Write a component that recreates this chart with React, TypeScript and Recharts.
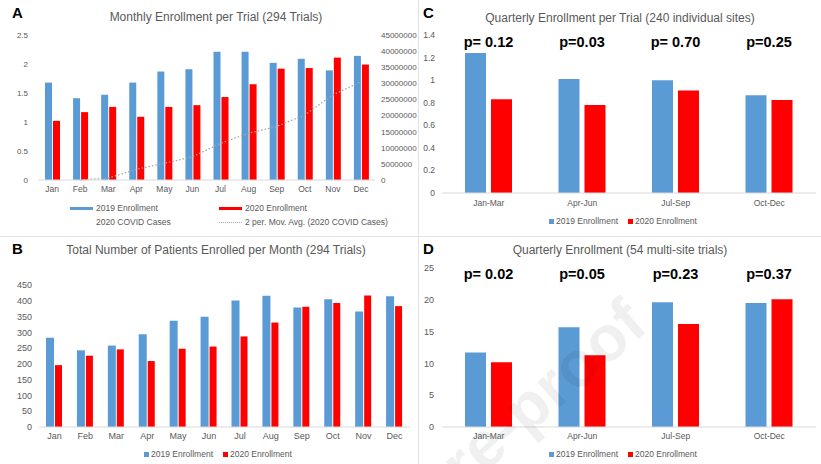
import React from 'react';
import { ComposedChart, BarChart, Bar, Line, XAxis, YAxis, LabelList } from 'recharts';

// ---- data ----
const months = ['Jan', 'Feb', 'Mar', 'Apr', 'May', 'Jun', 'Jul', 'Aug', 'Sep', 'Oct', 'Nov', 'Dec'];
const perTrial2019 = [1.68, 1.41, 1.47, 1.68, 1.87, 1.91, 2.21, 2.21, 2.02, 2.09, 1.89, 2.14];
const perTrial2020 = [1.02, 1.17, 1.26, 1.09, 1.26, 1.29, 1.43, 1.65, 1.92, 1.93, 2.11, 1.99];
const covidMovAvg = [null, 0, 600000, 3300000, 5200000, 7200000, 11400000, 14500000, 16600000, 20200000, 26400000, 30500000];

const total2019 = [283, 243, 258, 294, 337, 349, 401, 416, 379, 405, 366, 414];
const total2020 = [196, 226, 246, 209, 248, 255, 287, 331, 381, 393, 417, 383];

const quarters = ['Jan-Mar', 'Apr-Jun', 'Jul-Sep', 'Oct-Dec'];
const sites2019 = [1.24, 1.01, 1.0, 0.866];
const sites2020 = [0.83, 0.78, 0.908, 0.825];
const sitesP = ['p= 0.12', 'p=0.03', 'p= 0.70', 'p=0.25'];

const multi2019 = [11.7, 15.7, 19.6, 19.5];
const multi2020 = [10.2, 11.3, 16.2, 20.1];
const multiP = ['p= 0.02', 'p=0.05', 'p=0.23', 'p=0.37'];

const BLUE = '#5B9BD5';
const RED = '#FF0000';
const GREY = '#595959';
const AXIS = '#d9d9d9';
const FONT = "'Liberation Sans', Arial, sans-serif";

const monthlyA = months.map((m, i) => ({ m, y2019: perTrial2019[i], y2020: perTrial2020[i], covid: covidMovAvg[i] }));
const monthlyB = months.map((m, i) => ({ m, y2019: total2019[i], y2020: total2020[i] }));
const quarterC = quarters.map((q, i) => ({ q, y2019: sites2019[i], y2020: sites2020[i], p: sitesP[i] }));
const quarterD = quarters.map((q, i) => ({ q, y2019: multi2019[i], y2020: multi2020[i], p: multiP[i] }));

const PanelLetter = ({ text, left, top }: { text: string; left: number; top: number }) => (
  <div style={{ position: 'absolute', left, top, fontWeight: 'bold', fontSize: 15, color: '#000', fontFamily: FONT }}>{text}</div>
);

const Title = ({ text, cx, top }: { text: string; cx: number; top: number }) => (
  <div style={{ position: 'absolute', left: cx - 200, width: 400, top, textAlign: 'center', fontSize: 12, color: GREY, fontFamily: FONT, whiteSpace: 'nowrap' }}>{text}</div>
);

const SquareLegend = ({ cx, top }: { cx: number; top: number }) => (
  <div style={{ position: 'absolute', left: cx - 100, width: 200, top, display: 'flex', justifyContent: 'center', alignItems: 'center', gap: 10, fontSize: 8.5, color: GREY, fontFamily: FONT }}>
    <span style={{ display: 'flex', alignItems: 'center', gap: 2 }}>
      <span style={{ width: 5, height: 5, background: BLUE, display: 'inline-block' }} />2019 Enrollment
    </span>
    <span style={{ display: 'flex', alignItems: 'center', gap: 2 }}>
      <span style={{ width: 5, height: 5, background: RED, display: 'inline-block' }} />2020 Enrollment
    </span>
  </div>
);

const pLabel = (gap: number, y: number) => (props: any) => {
  const { x, value } = props;
  return (
    <text x={Number(x) - gap / 2} y={y} textAnchor="middle" dominantBaseline="central" fontSize={14.5} fontWeight="bold" fill="#000" fontFamily={FONT}>
      {value}
    </text>
  );
};

const tickStyle = (size: number) => ({ fill: GREY, fontSize: size, fontFamily: FONT });

export default function App() {
  return (
    <div style={{ position: 'absolute', left: 0, top: 0, width: 821, height: 464, background: '#fff', overflow: 'hidden', fontFamily: FONT }}>
      {/* dividers */}
      <div style={{ position: 'absolute', left: 418, top: 0, width: 1, height: 464, background: '#e3e3e3' }} />
      <div style={{ position: 'absolute', left: 0, top: 236, width: 821, height: 1, background: '#e3e3e3' }} />

      {/* Panel A */}
      <div style={{ position: 'absolute', left: 0, top: 0 }}>
        <ComposedChart width={420} height={200} data={monthlyA} margin={{ top: 35, right: 0, bottom: 2, left: 0 }} barGap={1}>
          <XAxis dataKey="m" tickLine={false} axisLine={{ stroke: AXIS }} tickSize={0} tickMargin={6} height={18} tick={tickStyle(8.5)} interval={0} />
          <YAxis yAxisId="left" domain={[0, 2.5]} ticks={[0, 0.5, 1, 1.5, 2, 2.5]} axisLine={false} tickLine={false} tickSize={0} tickMargin={10} width={38} tick={tickStyle(8)} />
          <YAxis yAxisId="right" orientation="right" domain={[0, 45000000]} ticks={[0, 5000000, 10000000, 15000000, 20000000, 25000000, 30000000, 35000000, 40000000, 45000000]} axisLine={false} tickLine={false} tickSize={0} tickMargin={6} width={45} tick={tickStyle(8)} />
          <Bar yAxisId="left" dataKey="y2019" fill={BLUE} barSize={7} isAnimationActive={false} />
          <Bar yAxisId="left" dataKey="y2020" fill={RED} barSize={7} isAnimationActive={false} />
          <Line yAxisId="right" dataKey="covid" stroke="#a6a6a6" strokeWidth={1.3} strokeDasharray="1.5 2" dot={false} isAnimationActive={false} />
        </ComposedChart>
      </div>
      <PanelLetter text="A" left={12} top={4} />
      <Title text="Monthly Enrollment per Trial (294 Trials)" cx={216} top={10} />
      <div style={{ position: 'absolute', left: 0, top: 202, width: 410, height: 30, fontSize: 8.5, color: GREY }}>
        <span style={{ position: 'absolute', left: 70, top: 5, width: 23, height: 3, background: BLUE }} />
        <span style={{ position: 'absolute', left: 96, top: 1 }}>2019 Enrollment</span>
        <span style={{ position: 'absolute', left: 219, top: 5, width: 23, height: 3, background: RED }} />
        <span style={{ position: 'absolute', left: 245, top: 1 }}>2020 Enrollment</span>
        <span style={{ position: 'absolute', left: 96, top: 15 }}>2020 COVID Cases</span>
        <span style={{ position: 'absolute', left: 219, top: 20, width: 23, height: 0, borderTop: '1px dotted #a6a6a6' }} />
        <span style={{ position: 'absolute', left: 245, top: 15 }}>2 per. Mov. Avg. (2020 COVID Cases)</span>
      </div>

      {/* Panel C */}
      <div style={{ position: 'absolute', left: 410, top: 0 }}>
        <BarChart width={411} height={210} data={quarterC} margin={{ top: 35, right: 5, bottom: 0, left: 0 }} barGap={5}>
          <XAxis dataKey="q" tickLine={false} axisLine={{ stroke: AXIS }} tickSize={0} tickMargin={7} height={17} tick={tickStyle(8.5)} interval={0} />
          <YAxis domain={[0, 1.4]} ticks={[0, 0.2, 0.4, 0.6, 0.8, 1, 1.2, 1.4]} axisLine={false} tickLine={false} tickSize={0} tickMargin={7} width={32} tick={tickStyle(8.5)} />
          <Bar dataKey="y2019" fill={BLUE} barSize={21} isAnimationActive={false} />
          <Bar dataKey="y2020" fill={RED} barSize={21} isAnimationActive={false}>
            <LabelList dataKey="p" content={pLabel(5, 42)} />
          </Bar>
        </BarChart>
      </div>
      <PanelLetter text="C" left={423} top={4} />
      <Title text="Quarterly Enrollment per Trial (240 individual sites)" cx={620} top={11} />
      <SquareLegend cx={623} top={216} />

      {/* Panel B */}
      <div style={{ position: 'absolute', left: 0, top: 235 }}>
        <BarChart width={410} height={210} data={monthlyB} margin={{ top: 50, right: 0, bottom: 0, left: 0 }} barGap={1}>
          <XAxis dataKey="m" tickLine={false} axisLine={{ stroke: AXIS }} tickSize={0} tickMargin={6} height={18} tick={tickStyle(9)} interval={0} />
          <YAxis domain={[0, 450]} ticks={[0, 50, 100, 150, 200, 250, 300, 350, 400, 450]} axisLine={false} tickLine={false} tickSize={0} tickMargin={7} width={39} tick={tickStyle(9)} />
          <Bar dataKey="y2019" fill={BLUE} barSize={8} isAnimationActive={false} />
          <Bar dataKey="y2020" fill={RED} barSize={7} isAnimationActive={false} />
        </BarChart>
      </div>
      <PanelLetter text="B" left={12} top={240} />
      <Title text="Total Number of Patients Enrolled per Month (294 Trials)" cx={216} top={243} />
      <SquareLegend cx={218} top={449} />

      {/* Panel D */}
      <div style={{ position: 'absolute', left: 410, top: 235 }}>
        <BarChart width={411} height={210} data={quarterD} margin={{ top: 33, right: 5, bottom: 0, left: 0 }} barGap={5}>
          <XAxis dataKey="q" tickLine={false} axisLine={{ stroke: AXIS }} tickSize={0} tickMargin={6} height={18} tick={tickStyle(8.5)} interval={0} />
          <YAxis domain={[0, 25]} ticks={[0, 5, 10, 15, 20, 25]} axisLine={false} tickLine={false} tickSize={0} tickMargin={8} width={32} tick={tickStyle(9)} />
          <Bar dataKey="y2019" fill={BLUE} barSize={21} isAnimationActive={false} />
          <Bar dataKey="y2020" fill={RED} barSize={21} isAnimationActive={false}>
            <LabelList dataKey="p" content={pLabel(5, 39)} />
          </Bar>
        </BarChart>
      </div>
      <PanelLetter text="D" left={423} top={240} />
      <Title text="Quarterly Enrollment (54 multi-site trials)" cx={620} top={243} />
      <SquareLegend cx={623} top={449} />

      {/* watermark */}
      <svg width={821} height={464} style={{ position: 'absolute', left: 0, top: 0, pointerEvents: 'none' }}>
        <text x={650} y={329} textAnchor="end" fontSize={64} fontWeight="bold" fontFamily={FONT} fill="#000" fillOpacity={0.06} transform="rotate(-41 650 329)">Journal Pre-proof</text>
      </svg>
    </div>
  );
}
